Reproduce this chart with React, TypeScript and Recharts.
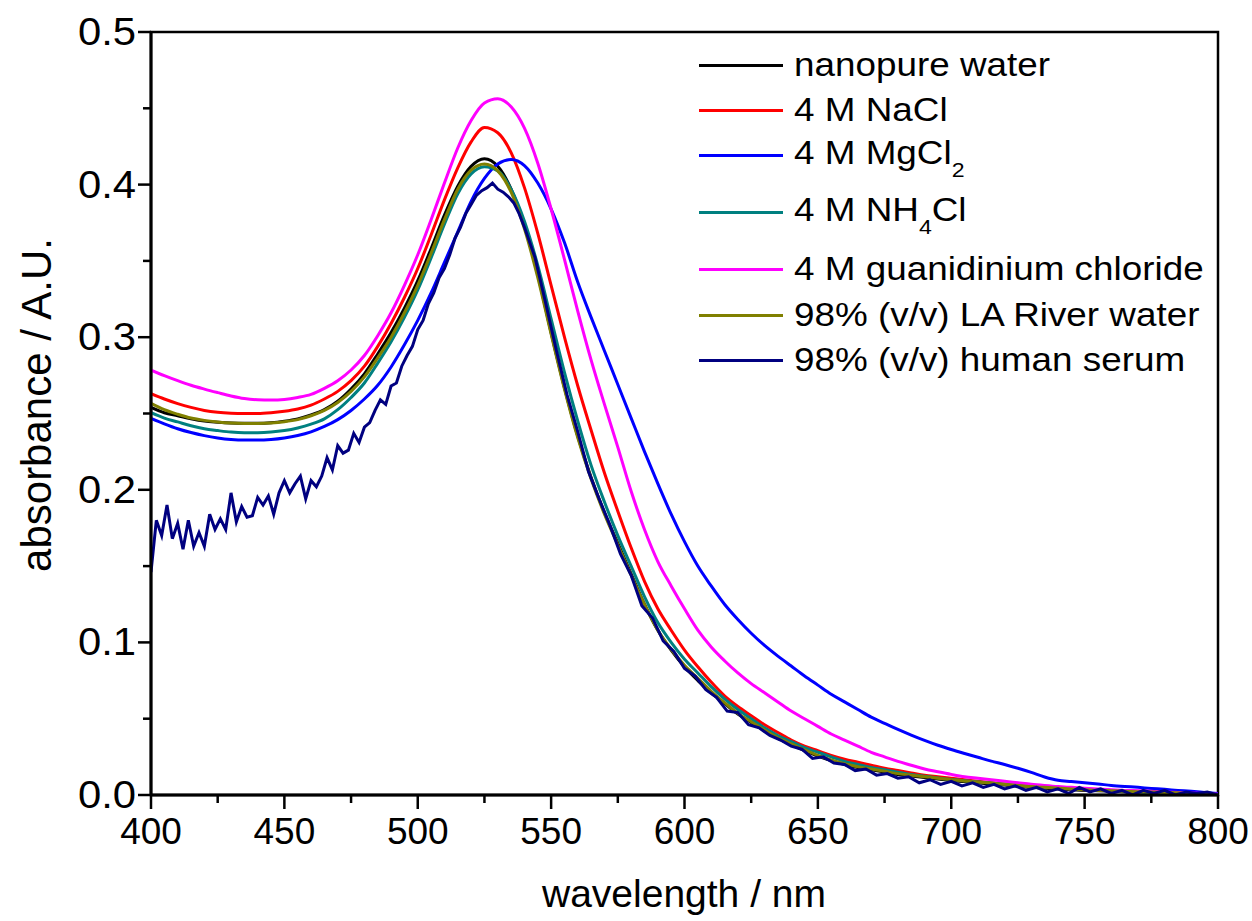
import React from "react";
import { LineChart, Line, XAxis, YAxis, ReferenceArea, Legend } from "recharts";

// UV-vis spectra of gold nanoparticles in different media
// wavelength grid (nm) shared by the smooth spectra
const WL = [
  400, 405, 410, 415, 420, 425, 430, 435, 440, 445, 450, 455, 460, 465, 470, 475, 480,
  485, 490, 495, 500, 505, 510, 515, 520, 525, 530, 535, 540, 545, 550, 555, 560, 565,
  570, 575, 580, 585, 590, 595, 600, 605, 610, 615, 620, 625, 630, 635, 640, 645, 650,
  655, 660, 665, 670, 675, 680, 685, 690, 695, 700, 705, 710, 715, 720, 725, 730, 735,
  740, 745, 750, 755, 760, 765, 770, 775, 780, 785, 790, 795, 800,
];

const NANOPURE = [
  0.254, 0.2505, 0.2485, 0.2465, 0.245, 0.2443, 0.2438, 0.2436, 0.2436, 0.244, 0.245,
  0.2465, 0.249, 0.2525, 0.258, 0.266, 0.276, 0.289, 0.303, 0.319, 0.337, 0.358, 0.38,
  0.399, 0.412, 0.417, 0.412, 0.397, 0.373, 0.341, 0.303, 0.267, 0.235, 0.208, 0.185,
  0.165, 0.145, 0.125, 0.108, 0.095, 0.084, 0.075, 0.067, 0.06, 0.053, 0.0475, 0.042,
  0.037, 0.033, 0.029, 0.0255, 0.0225, 0.02, 0.018, 0.0165, 0.015, 0.0135, 0.0125, 0.0115,
  0.0105, 0.0095, 0.0088, 0.008, 0.0072, 0.0065, 0.0058, 0.005, 0.0045, 0.004, 0.0035,
  0.003, 0.0028, 0.0025, 0.0022, 0.002, 0.0018, 0.0015, 0.0012, 0.001, 0.0005, 0.0,
];

const NACL = [
  0.263, 0.2595, 0.2565, 0.254, 0.252, 0.2508, 0.2502, 0.25, 0.25, 0.2505, 0.2515, 0.253,
  0.2555, 0.2595, 0.2645, 0.2715, 0.281, 0.294, 0.309, 0.326, 0.345, 0.367, 0.39, 0.411,
  0.428, 0.4375, 0.434, 0.421, 0.398, 0.368, 0.334, 0.3, 0.268, 0.239, 0.211, 0.186,
  0.162, 0.14, 0.122, 0.108, 0.095, 0.084, 0.074, 0.065, 0.058, 0.052, 0.046, 0.041,
  0.036, 0.032, 0.029, 0.026, 0.0235, 0.0215, 0.0195, 0.0175, 0.016, 0.0145, 0.013, 0.012,
  0.011, 0.01, 0.009, 0.008, 0.007, 0.006, 0.0055, 0.005, 0.0045, 0.004, 0.0035, 0.0032,
  0.003, 0.0027, 0.0025, 0.002, 0.0018, 0.0015, 0.001, 0.0007, 0.0003,
];

const MGCL2 = [
  0.2468, 0.2432, 0.24, 0.2375, 0.2355, 0.234, 0.233, 0.2326, 0.2326, 0.233, 0.234,
  0.2356, 0.238, 0.2415, 0.246, 0.252, 0.2595, 0.2685, 0.2805, 0.295, 0.311, 0.329,
  0.349, 0.369, 0.389, 0.404, 0.4135, 0.4165, 0.4125, 0.401, 0.384, 0.362, 0.336, 0.313,
  0.291, 0.269, 0.247, 0.225, 0.204, 0.184, 0.166, 0.15, 0.137, 0.125, 0.115, 0.106,
  0.098, 0.091, 0.0845, 0.078, 0.072, 0.066, 0.061, 0.056, 0.051, 0.047, 0.043, 0.0393,
  0.0358, 0.0326, 0.0298, 0.0272, 0.0247, 0.0222, 0.02, 0.0175, 0.0148, 0.0118, 0.0096,
  0.0088, 0.008, 0.0072, 0.0063, 0.0056, 0.005, 0.0043, 0.0037, 0.003, 0.0024, 0.0017, 0.001,
];

const NH4CL = [
  0.2505, 0.247, 0.2445, 0.242, 0.24, 0.2388, 0.2378, 0.2374, 0.2374, 0.2378, 0.2388,
  0.2405, 0.243, 0.2465, 0.2525, 0.2605, 0.27, 0.283, 0.297, 0.313, 0.331, 0.352, 0.374,
  0.394, 0.407, 0.4117, 0.409, 0.397, 0.376, 0.347, 0.312, 0.277, 0.245, 0.216, 0.192,
  0.17, 0.15, 0.13, 0.113, 0.1, 0.089, 0.08, 0.071, 0.063, 0.056, 0.05, 0.044, 0.039,
  0.035, 0.031, 0.028, 0.025, 0.022, 0.02, 0.018, 0.0165, 0.015, 0.0135, 0.0123, 0.0112,
  0.0102, 0.0094, 0.0086, 0.0078, 0.007, 0.0062, 0.0055, 0.005, 0.0045, 0.004, 0.0035,
  0.0032, 0.0029, 0.0025, 0.0022, 0.0018, 0.0015, 0.0012, 0.001, 0.0006, 0.0002,
];

const GUANIDINIUM = [
  0.2785, 0.2748, 0.2715, 0.2685, 0.266, 0.2637, 0.2615, 0.2598, 0.259, 0.2588, 0.2592,
  0.2605, 0.2625, 0.2665, 0.2715, 0.2785, 0.288, 0.301, 0.316, 0.334, 0.354, 0.377, 0.401,
  0.424, 0.442, 0.4535, 0.4563, 0.451, 0.437, 0.414, 0.384, 0.351, 0.317, 0.285, 0.256,
  0.228, 0.199, 0.174, 0.153, 0.137, 0.122, 0.108, 0.097, 0.088, 0.08, 0.073, 0.067,
  0.061, 0.055, 0.05, 0.045, 0.04, 0.036, 0.032, 0.028, 0.025, 0.022, 0.0195, 0.017,
  0.0152, 0.0135, 0.012, 0.011, 0.01, 0.009, 0.008, 0.007, 0.0062, 0.0055, 0.005, 0.0045,
  0.004, 0.0035, 0.003, 0.0028, 0.0025, 0.002, 0.0017, 0.0013, 0.001, 0.0005,
];

const LA_RIVER = [
  0.2567, 0.2525, 0.2495, 0.247, 0.2455, 0.2445, 0.2438, 0.2435, 0.2435, 0.2438, 0.2446,
  0.246, 0.2485, 0.252, 0.2572, 0.2645, 0.274, 0.2865, 0.3, 0.316, 0.334, 0.355, 0.377,
  0.397, 0.4095, 0.4135, 0.409, 0.395, 0.371, 0.339, 0.302, 0.266, 0.234, 0.207, 0.184,
  0.164, 0.144, 0.125, 0.108, 0.0955, 0.085, 0.0765, 0.068, 0.0605, 0.0535, 0.048,
  0.0425, 0.0375, 0.0335, 0.0295, 0.026, 0.023, 0.0205, 0.0185, 0.017, 0.0155, 0.014,
  0.013, 0.012, 0.011, 0.01, 0.0092, 0.0085, 0.0078, 0.007, 0.0062, 0.0055, 0.005, 0.0045,
  0.004, 0.0035, 0.003, 0.0028, 0.0025, 0.0022, 0.002, 0.0017, 0.0014, 0.001, 0.0007, 0.0004,
];

// human serum is noisy, so it is read on its own (finer) grid
const SERUM_WL = [
  400, 402, 404, 406, 408, 410, 412, 414, 416, 418, 420, 422, 424, 426, 428, 430, 432,
  434, 436, 438, 440, 442, 444, 446, 448, 450, 452, 454, 456, 458, 460, 462, 464, 466,
  468, 470, 472, 474, 476, 478, 480, 482, 484, 486, 488, 490, 492, 494, 496, 498, 500,
  502, 504, 506, 508, 510, 512, 514, 516, 518, 520, 522, 524, 526, 528, 530, 532, 534,
  536, 538, 540, 544, 548, 552, 556, 560, 564, 568, 572, 576, 580, 584, 588, 592, 596,
  600, 604, 608, 612, 616, 620, 624, 628, 632, 636, 640, 644, 648, 652, 656, 660, 664,
  668, 672, 676, 680, 684, 688, 692, 696, 700, 704, 708, 712, 716, 720, 724, 728, 732,
  736, 740, 744, 748, 752, 756, 760, 764, 768, 772, 776, 780, 784, 788, 792, 796, 800,
];

const SERUM = [
  0.146, 0.18, 0.17, 0.19, 0.168, 0.178, 0.161, 0.18, 0.163, 0.172, 0.163, 0.184, 0.174,
  0.181, 0.174, 0.198, 0.179, 0.189, 0.182, 0.183, 0.195, 0.19, 0.196, 0.184, 0.198,
  0.206, 0.198, 0.204, 0.209, 0.194, 0.206, 0.202, 0.209, 0.221, 0.213, 0.229, 0.224,
  0.226, 0.237, 0.231, 0.241, 0.244, 0.252, 0.259, 0.256, 0.268, 0.27, 0.281, 0.288, 0.294,
  0.305, 0.311, 0.322, 0.329, 0.339, 0.345, 0.354, 0.365, 0.372, 0.381, 0.387, 0.393,
  0.396, 0.398, 0.401, 0.397, 0.395, 0.392, 0.388, 0.381, 0.372, 0.352, 0.322, 0.291,
  0.262, 0.238, 0.212, 0.194, 0.177, 0.158, 0.144, 0.124, 0.116, 0.101, 0.094, 0.083,
  0.078, 0.069, 0.064, 0.055, 0.054, 0.046, 0.044, 0.039, 0.036, 0.032, 0.03, 0.024,
  0.025, 0.021, 0.02, 0.016, 0.017, 0.013, 0.014, 0.011, 0.012, 0.008, 0.01, 0.007, 0.009,
  0.006, 0.008, 0.005, 0.007, 0.004, 0.006, 0.003, 0.005, 0.002, 0.004, 0.001, 0.005,
  0.002, 0.004, 0.001, 0.003, 0.0, 0.003, 0.001, 0.003, 0.0, 0.002, 0.001, 0.002, 0.0,
];

const X_TICKS = [400, 425, 450, 475, 500, 525, 550, 575, 600, 625, 650, 675, 700, 725, 750, 775, 800];
const Y_TICKS = [0, 0.05, 0.1, 0.15, 0.2, 0.25, 0.3, 0.35, 0.4, 0.45, 0.5];

const SERIES = [
  { key: "nanopure", label: ["nanopure water"], color: "#000000", wl: WL, values: NANOPURE },
  { key: "nacl", label: ["4 M NaCl"], color: "#ff0000", wl: WL, values: NACL },
  { key: "mgcl2", label: ["4 M MgCl", "2", ""], color: "#0000ff", wl: WL, values: MGCL2 },
  { key: "nh4cl", label: ["4 M NH", "4", "Cl"], color: "#008080", wl: WL, values: NH4CL },
  { key: "guan", label: ["4 M guanidinium chloride"], color: "#ff00ff", wl: WL, values: GUANIDINIUM },
  { key: "river", label: ["98% (v/v) LA River water"], color: "#808000", wl: WL, values: LA_RIVER },
  { key: "serum", label: ["98% (v/v) human serum"], color: "#000080", wl: SERUM_WL, values: SERUM },
];

const W = 1252;
const H = 921;
const PLOT_LEFT = 151;
const PLOT_TOP = 32;
const PLOT_BOTTOM = 795;
const FONT = '"Liberation Sans", Arial, sans-serif';

// legend row centres (px from top of chart)
const LEGEND_ROW_Y = [65, 110, 155, 212, 269, 315, 360];

function XTick(props: any) {
  const { x, payload } = props;
  const major = payload.value % 50 === 0;
  return (
    <g>
      <line x1={x} x2={x} y1={PLOT_BOTTOM} y2={PLOT_BOTTOM + (major ? 14 : 8)} stroke="#000" strokeWidth={2.5} />
      {major && (
        <text x={x} y={PLOT_BOTTOM + 49} textAnchor="middle" fontSize={37} fontFamily={FONT} fill="#000">
          {payload.value}
        </text>
      )}
    </g>
  );
}

function YTick(props: any) {
  const { y, payload } = props;
  const major = Math.round(payload.value * 100) % 10 === 0;
  return (
    <g>
      <line x1={PLOT_LEFT - (major ? 13 : 8)} x2={PLOT_LEFT} y1={y} y2={y} stroke="#000" strokeWidth={2.5} />
      {major && (
        <text
          transform={`translate(${PLOT_LEFT - 15} ${y + 13}) scale(1.1 1)`}
          textAnchor="end"
          fontSize={38}
          fontFamily={FONT}
          fill="#000"
        >
          {payload.value.toFixed(1)}
        </text>
      )}
    </g>
  );
}

function renderLegend() {
  return (
    <div style={{ position: "relative", fontFamily: FONT, fontSize: 33.5, color: "#000" }}>
      {SERIES.map((s, i) => (
        <div
          key={s.key}
          style={{
            position: "absolute",
            left: 0,
            top: LEGEND_ROW_Y[i] - 20,
            height: 40,
            display: "flex",
            alignItems: "center",
            whiteSpace: "nowrap",
          }}
        >
          <div style={{ width: 84, height: 3, background: s.color }} />
          <span
            style={{
              marginLeft: 11,
              lineHeight: "40px",
              display: "inline-block",
              transform: "scaleX(1.1)",
              transformOrigin: "left center",
            }}
          >
            {s.label[0]}
            {s.label.length > 1 && (
              <span style={{ fontSize: 21, position: "relative", top: 13 }}>{s.label[1]}</span>
            )}
            {s.label.length > 2 && s.label[2]}
          </span>
        </div>
      ))}
    </div>
  );
}

export default function App() {
  return (
    <div style={{ position: "fixed", left: 0, top: 0, width: W, height: H, background: "#fff" }}>
      <LineChart width={W} height={H} margin={{ top: PLOT_TOP, right: W - 1218, bottom: 0, left: 0 }}>
        <XAxis
          type="number"
          dataKey="wl"
          domain={[400, 800]}
          ticks={X_TICKS}
          allowDataOverflow
          height={H - PLOT_BOTTOM}
          axisLine={{ stroke: "#000", strokeWidth: 3 }}
          tickLine={false}
          tick={<XTick />}
          interval={0}
          label={{
            content: () => (
              <text x={684} y={907} textAnchor="middle" fontSize={39} fontFamily={FONT} fill="#000">
                wavelength / nm
              </text>
            ),
          }}
        />
        <YAxis
          type="number"
          domain={[0, 0.5]}
          ticks={Y_TICKS}
          allowDataOverflow
          width={PLOT_LEFT}
          axisLine={{ stroke: "#000", strokeWidth: 3 }}
          tickLine={false}
          tick={<YTick />}
          interval={0}
          label={{
            content: () => (
              <text
                x={36}
                y={405}
                transform="rotate(-90 36 405)"
                textAnchor="middle"
                dominantBaseline="central"
                fontSize={42}
                fontFamily={FONT}
                fill="#000"
              >
                absorbance / A.U.
              </text>
            ),
          }}
        />
        <ReferenceArea x1={400} x2={800} y1={0} y2={0.5} fill="none" stroke="#000" strokeWidth={2.5} />
        {SERIES.map((s) => (
          <Line
            key={s.key}
            data={s.wl.map((wl, i) => ({ wl, v: s.values[i] }))}
            dataKey="v"
            name={s.key}
            type={s.key === "serum" ? "linear" : "monotone"}
            stroke={s.color}
            strokeWidth={3}
            dot={false}
            isAnimationActive={false}
          />
        ))}
        <Legend
          layout="horizontal"
          verticalAlign="middle"
          align="center"
          content={renderLegend}
          wrapperStyle={{ left: 699, top: 0, width: 540, height: 400 }}
        />
      </LineChart>
    </div>
  );
}
